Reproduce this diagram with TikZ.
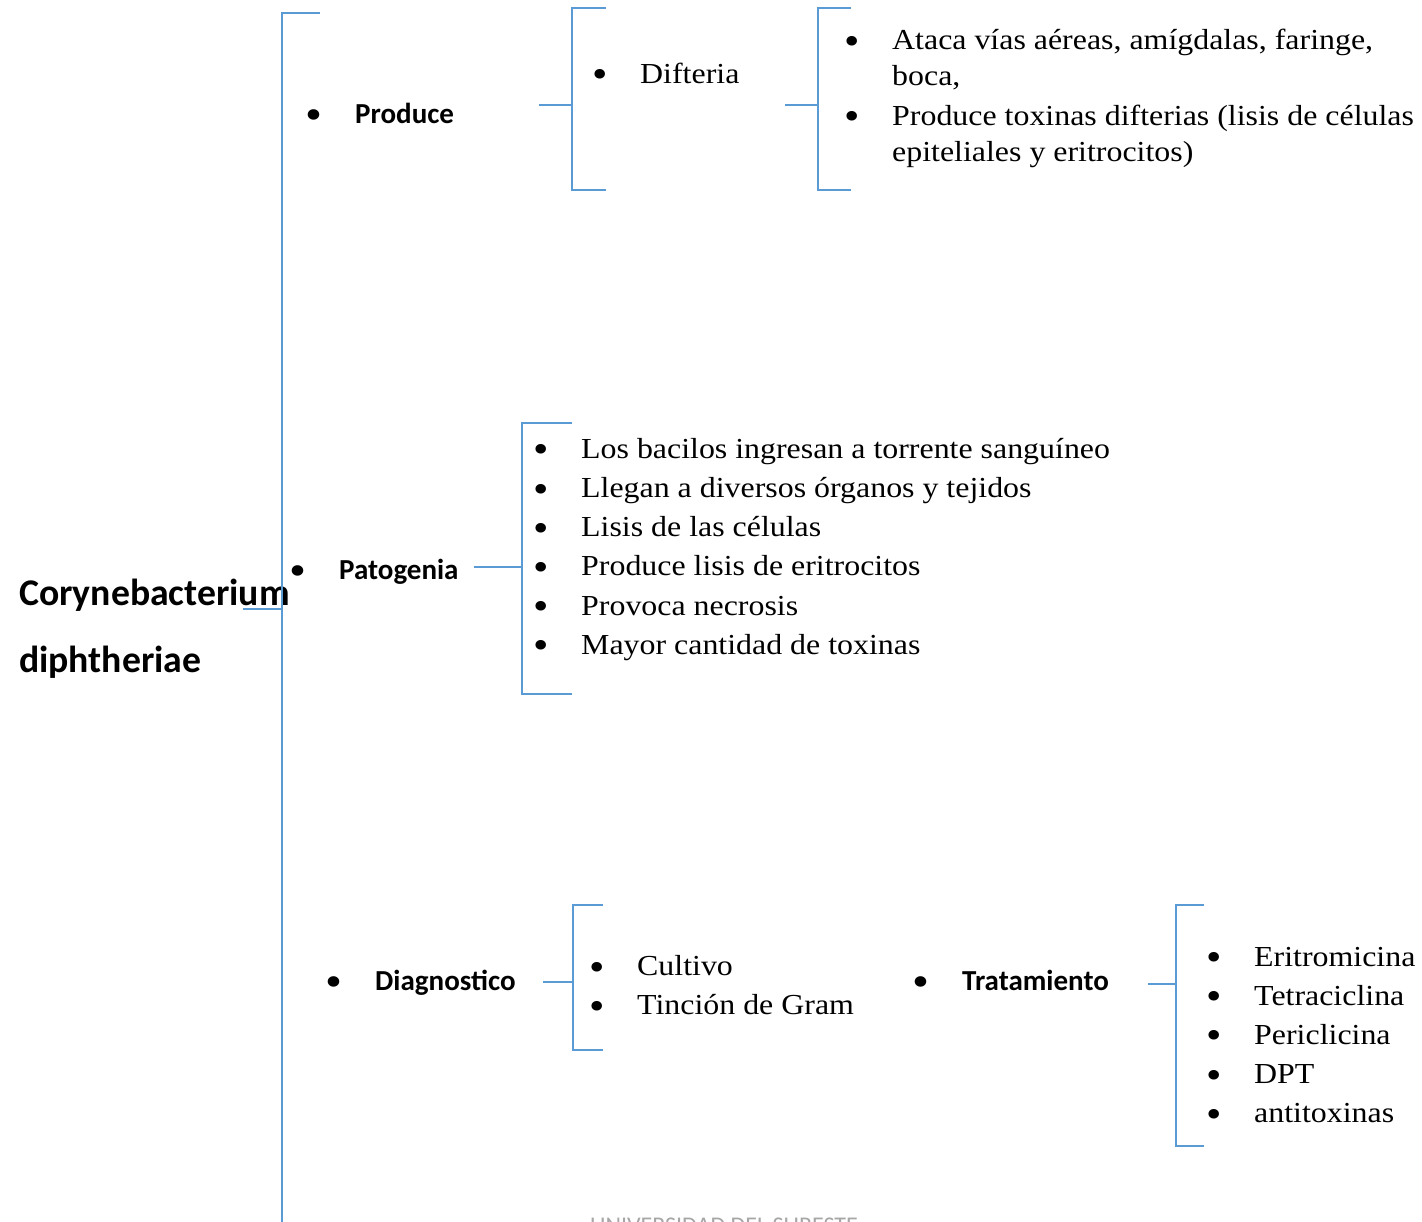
\documentclass[tikz,border=0pt]{standalone}
\usepackage{fontspec}
\usepackage{graphicx}
\setmainfont{Liberation Serif}[FakeStretch=1.1]
\newfontfamily\calibri{Carlito}
\definecolor{wordblue}{HTML}{5B9BD5}
\definecolor{footgray}{HTML}{A6A6A6}
% bullets: big one for the bold headings, smaller one for the lists
\newcommand{\hbul}{\makebox[0pt][r]{\normalfont\raisebox{-6pt}{\fontsize{44}{44}\selectfont\textbullet}\hspace{33pt}}}
\newcommand{\lbul}{\makebox[0pt][r]{\raisebox{-4.5pt}{\fontsize{40}{40}\selectfont\textbullet}\hspace{32pt}}}

\begin{document}
\begin{tikzpicture}[x=1pt, y=-1pt,
  brace/.style={draw=wordblue, line width=1.4pt},
  title/.style={inner sep=0pt, anchor=base west, font=\calibri\bfseries\fontsize{37.7}{67.5}\selectfont},
  head/.style={inner sep=0pt, anchor=base west, font=\calibri\bfseries\fontsize{29}{35}\selectfont},
  items/.style={inner sep=0pt, anchor=base west, font=\fontsize{29}{39.2}\selectfont},
  pitems/.style={items, font=\fontsize{29}{36}\selectfont}
]
\useasboundingbox (0,0) rectangle (1422,1222);
\clip (0,0) rectangle (1422,1222);

% texts
\node[title] (title) at (19,605) {\begin{tabular}[t]{@{}l@{}}Corynebacterium\\diphtheriae\end{tabular}};
\node[head] (produce) at (355,124) {\hbul Produce};
\node[items] (difteria) at (640,83.5) {\lbul Difteria};
\node[pitems] (ataca) at (892,50) {\begin{tabular}[t]{@{}l@{}}\lbul Ataca vías aéreas, amígdalas, faringe,\\boca,\end{tabular}};
\node[pitems] (toxinas) at (892,125.5) {\begin{tabular}[t]{@{}l@{}}\lbul Produce toxinas difterias (lisis de células\\epiteliales y eritrocitos)\end{tabular}};
\node[head] (patogenia) at (339,579) {\hbul Patogenia};
\node[items] (patlist) at (581,458.3) {\begin{tabular}[t]{@{}l@{}}
  \lbul Los bacilos ingresan a torrente sanguíneo\\
  \lbul Llegan a diversos órganos y tejidos\\
  \lbul Lisis de las células\\
  \lbul Produce lisis de eritrocitos\\
  \lbul Provoca necrosis\\
  \lbul Mayor cantidad de toxinas\end{tabular}};
\node[head] (diagnostico) at (375,990) {\hbul Diagnostico};
\node[items] (diaglist) at (637,975.5) {\begin{tabular}[t]{@{}l@{}}
  \lbul Cultivo\\
  \lbul Tinción de Gram\end{tabular}};
\node[head] (tratamiento) at (962,990) {\hbul Tratamiento};
\node[items] (tratlist) at (1254,966) {\begin{tabular}[t]{@{}l@{}}
  \lbul Eritromicina\\
  \lbul Tetraciclina\\
  \lbul Periclicina\\
  \lbul DPT\\
  \lbul antitoxinas\end{tabular}};
\node[inner sep=0pt, anchor=base, text=footgray, font=\calibri\fontsize{24}{28}\selectfont] (footer) at (724,1233) {UNIVERSIDAD DEL SURESTE};

% brackets
\coordinate (main-in) at (243,609);
\coordinate (main-sp) at (282,609);
\draw[brace] (320,13) -| (282,1240);
\draw[brace] (main-in) -- (main-sp);

\coordinate (prod-in) at (539,105);
\coordinate (prod-sp) at (572,105);
\draw[brace] (606,8) -| (572,190) -- (606,190);
\draw[brace] (prod-in) -- (prod-sp);

\coordinate (dif-in) at (785,105);
\coordinate (dif-sp) at (818,105);
\draw[brace] (851,8) -| (818,190) -- (851,190);
\draw[brace] (dif-in) -- (dif-sp);

\coordinate (pat-in) at (474,567);
\coordinate (pat-sp) at (522,567);
\draw[brace] (572,423) -| (522,694) -- (572,694);
\draw[brace] (pat-in) -- (pat-sp);

\coordinate (diag-in) at (543,982);
\coordinate (diag-sp) at (573,982);
\draw[brace] (603,905) -| (573,1050) -- (603,1050);
\draw[brace] (diag-in) -- (diag-sp);

\coordinate (trat-in) at (1148,984);
\coordinate (trat-sp) at (1176,984);
\draw[brace] (1204,905) -| (1176,1146) -- (1204,1146);
\draw[brace] (trat-in) -- (trat-sp);
\end{tikzpicture}
\end{document}
